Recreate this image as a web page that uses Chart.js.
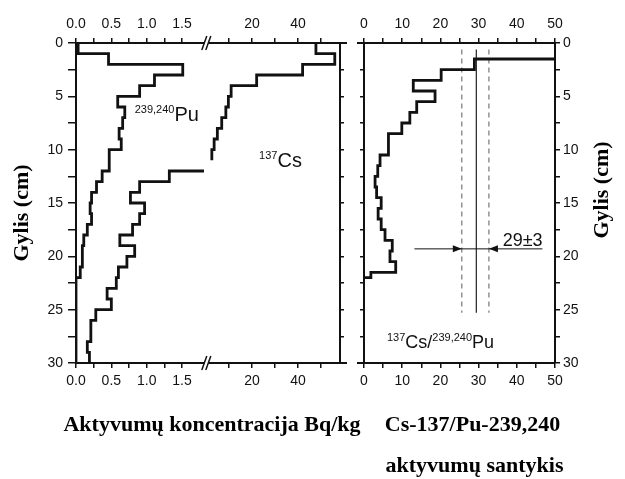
<!DOCTYPE html>
<html>
<head>
<meta charset="utf-8">
<script src="https://cdn.jsdelivr.net/npm/chart.js@4.4.1/dist/chart.umd.min.js"></script>
<style>
  html, body { margin: 0; padding: 0; background: #fff; }
  #wrap { position: relative; width: 625px; height: 479px; }
  #wrap canvas { position: absolute; left: 0; top: 0; }
</style>
</head>
<body>
<div id="wrap">
  <canvas id="concChart" width="625" height="479"></canvas>
  <canvas id="ratioChart" width="625" height="479"></canvas>
</div>
<script>
// --- Data ---
// depth layers, 1 cm each: top of layer (cm)
const depthTop = [0, 1, 2, 3, 4, 5, 6, 7, 8, 9, 10, 11, 12, 13, 14, 15, 16, 17, 18, 19, 20, 21, 22, 23, 24, 25, 26, 27, 28, 29];
const depthBottom = 30;
// 239,240Pu activity, Bq/kg
const puActivity = [0.03, 0.46, 1.51, 1.11, 0.90, 0.59, 0.69, 0.66, 0.61, 0.64, 0.47, 0.47, 0.37, 0.29, 0.22,
                    0.20, 0.22, 0.16, 0.11, 0.09, 0.09, 0.06, 0, 0, 0, 0, 0, 0, 0, 0];
// 137Cs activity, Bq/kg (no value for 11-12 cm)
const csActivity = [47.8, 56, 42, 22, 10.9, 9.7, 8.6, 6.8, 4.9, 3.5, 2.5, null, 1.32, 0.90, 0.77,
                    0.97, 0.90, 0.80, 0.62, 0.83, 0.72, 0.60, 0.57, 0.44, 0.50, 0.28, 0.21, 0.21, 0.16, 0.19];
// 137Cs/239,240Pu activity ratio (first layer is off scale)
const ratioDepthTop = [0, 1.5, 2.5, 3.5, 4.5, 5.5, 6.5, 7.5, 8.5, 10.5, 11.5, 12.5, 13.5, 14.5, 15.5, 16.5, 17.5, 18.5, 19.5, 20.5, 21.5, 22];
const ratioValue = [120, 28.9, 20.2, 12.9, 18.6, 13.8, 12.0, 9.9, 6.4, 4.2, 3.6, 2.9, 3.3, 4.5, 3.7, 4.5, 5.5, 7.4, 6.8, 8.3, 1.8, 0];
const ratioBottom = 22;
// mean ratio 29±3: lower, mean, upper
const ratioLines = [25.6, 29.4, 32.7];
const ratioLineDepth = [0.6, 25.3];

// tick values
const puTicks = [0, 0.25, 0.5, 0.75, 1, 1.25, 1.5];
const csTicks = [10, 20, 30, 40, 50];
const depthStep = 2.5;

// --- Broken concentration axis ---
const LOW_LIMIT = 1.8;      // values up to here use the 0-1.5 part
const BREAK_AT = 1.85;      // position of the // mark
const HIGH_ORIGIN = 1.84;   // axis position of 0 on the high part
const HIGH_UNIT = 0.0325;   // axis units per Bq/kg on the high part
const AXIS_MAX = 3.734;

function toBroken(v) {
  return v <= LOW_LIMIT ? v : HIGH_ORIGIN + v * HIGH_UNIT;
}

const brokenTicks = puTicks.map(v => ({ value: v, label: (v * 2) % 1 === 0 ? v.toFixed(1) : '' }))
  .concat(csTicks.map(v => ({ value: toBroken(v), label: v % 20 === 0 ? String(v) : '' })));

// step profile points: vertical run over each layer, horizontal step between layers
function stepPoints(tops, values, bottom, map) {
  const pts = [];
  for (let i = 0; i < values.length; i++) {
    const v = values[i];
    if (v === null) { pts.push({ x: null, y: null }); continue; }
    // curve coming back from the high part enters at the axis break
    if (i > 1 && values[i - 1] === null && values[i - 2] > LOW_LIMIT && v <= LOW_LIMIT) {
      pts.push({ x: BREAK_AT - 0.04, y: tops[i] });
    }
    pts.push({ x: map(v), y: tops[i] });
    const last = i + 1 === values.length || values[i + 1] === null;
    if (last) pts.push({ x: map(v), y: i + 1 < tops.length ? tops[i + 1] : bottom });
  }
  return pts;
}

const SANS = '"Liberation Sans", Arial, sans-serif';
const SERIF = '"Liberation Serif", "Times New Roman", serif';
const INK = '#111';

function drawIsotope(ctx, parts, x, y, mainSize, supSize) {
  let cx = x;
  ctx.textAlign = 'left';
  ctx.textBaseline = 'alphabetic';
  ctx.fillStyle = INK;
  parts.forEach(([text, sup]) => {
    ctx.font = (sup ? supSize : mainSize) + 'px ' + SANS;
    ctx.fillText(text, cx, sup ? y - mainSize * 0.4 : y);
    cx += ctx.measureText(text).width;
  });
}

function drawTitle(ctx, text, x, y, rot) {
  ctx.save();
  ctx.translate(x, y);
  ctx.rotate(rot);
  ctx.font = 'bold 22px ' + SERIF;
  ctx.fillStyle = '#000';
  ctx.textAlign = 'center';
  ctx.textBaseline = 'middle';
  ctx.fillText(text, 0, 0);
  ctx.restore();
}

function axisStyle(tickLen, pad, showLabels) {
  return {
    grid: { display: true, drawOnChartArea: false, drawTicks: true, tickLength: tickLen, color: INK, lineWidth: 1.5 },
    border: { display: true, color: INK, width: 2 },
    ticks: { display: showLabels, padding: pad, color: INK, autoSkip: false, maxRotation: 0,
             font: { family: SANS, size: 14 } }
  };
}

function depthAxis(position, tickLen, pad, showLabels, width) {
  const a = axisStyle(tickLen, pad, showLabels);
  a.type = 'linear';
  a.position = position;
  a.reverse = true;
  a.min = 0;
  a.max = depthBottom;
  a.ticks.stepSize = depthStep;
  a.ticks.callback = v => (v % 5 === 0 ? v : '');
  a.afterFit = s => { s.width = width; };
  return a;
}

function brokenAxis(position, height) {
  const a = axisStyle(5, 5, true);
  a.type = 'linear';
  a.position = position;
  a.min = 0;
  a.max = AXIS_MAX;
  a.afterBuildTicks = s => { s.ticks = brokenTicks.map(t => ({ value: t.value })); };
  a.ticks.callback = (v, i) => brokenTicks[i].label;
  a.afterFit = s => { s.height = height; };
  return a;
}

function ratioAxis(position, height) {
  const a = axisStyle(5, 5, true);
  a.type = 'linear';
  a.position = position;
  a.min = 0;
  a.max = 50;
  a.ticks.stepSize = 5;
  a.ticks.callback = v => (v % 10 === 0 ? v : '');
  a.afterFit = s => { s.height = height; };
  return a;
}

const profileStyle = { borderColor: INK, borderWidth: 2.8, stepped: 'after', pointRadius: 0, fill: false, spanGaps: false };

// --- Left panel: activity concentrations ---
const concDecor = {
  id: 'concDecor',
  afterDraw(chart) {
    const { ctx, chartArea: area } = chart;
    const xs = chart.scales.x, ys = chart.scales.y;
    ctx.save();
    // axis lines run a little past the right frame
    ctx.strokeStyle = INK;
    ctx.lineWidth = 2;
    [area.top, area.bottom].forEach(y => {
      ctx.beginPath(); ctx.moveTo(area.right, y); ctx.lineTo(area.right + 7, y); ctx.stroke();
    });
    // axis break marks
    const bx = xs.getPixelForValue(BREAK_AT);
    [area.top, area.bottom].forEach(y => {
      ctx.fillStyle = '#fff';
      ctx.fillRect(bx - 2, y - 2, 4, 4);
      ctx.strokeStyle = INK;
      ctx.lineWidth = 1.5;
      [-2, 2].forEach(d => {
        ctx.beginPath();
        ctx.moveTo(bx + d - 3, y + 7);
        ctx.lineTo(bx + d + 2, y - 7);
        ctx.stroke();
      });
    });
    drawIsotope(ctx, [['239,240', true], ['Pu', false]], xs.getPixelForValue(0.83), ys.getPixelForValue(7.3), 20, 11);
    drawIsotope(ctx, [['137', true], ['Cs', false]], xs.getPixelForValue(2.59), ys.getPixelForValue(11.6), 20, 11);
    drawTitle(ctx, 'Gylis (cm)', area.left - 54, (area.top + area.bottom) / 2 + 10, -Math.PI / 2);
    drawTitle(ctx, 'Aktyvumų koncentracija Bq/kg', (area.left + area.right) / 2 + 4, area.bottom + 62, 0);
    ctx.restore();
  }
};

new Chart(document.getElementById('concChart'), {
  type: 'line',
  data: {
    datasets: [
      Object.assign({ label: '239,240Pu', data: stepPoints(depthTop, puActivity, depthBottom, toBroken) }, profileStyle),
      Object.assign({ label: '137Cs', data: stepPoints(depthTop, csActivity, depthBottom, toBroken) }, profileStyle)
    ]
  },
  options: {
    responsive: false,
    devicePixelRatio: 1,
    animation: false,
    layout: { padding: 0 },
    scales: {
      x: brokenAxis('bottom', 479 - 363),
      x2: brokenAxis('top', 43),
      y: depthAxis('left', 8, 5, true, 76),
      y2: depthAxis('right', 4, 3, false, 625 - 340)
    },
    plugins: { legend: { display: false }, tooltip: { enabled: false } }
  },
  plugins: [concDecor]
});

// --- Right panel: Cs/Pu activity ratio ---
const ratioDecor = {
  id: 'ratioDecor',
  afterDraw(chart) {
    const { ctx, chartArea: area } = chart;
    const xs = chart.scales.x, ys = chart.scales.y;
    ctx.save();
    ctx.strokeStyle = INK;
    ctx.lineWidth = 2;
    [area.top, area.bottom].forEach(y => {
      ctx.beginPath(); ctx.moveTo(area.left - 7, y); ctx.lineTo(area.left, y); ctx.stroke();
    });
    // 29±3 arrows
    const ya = ys.getPixelForValue(19.3);
    ctx.lineWidth = 1;
    ctx.beginPath();
    ctx.moveTo(xs.getPixelForValue(13.2), ya);
    ctx.lineTo(xs.getPixelForValue(46.7), ya);
    ctx.stroke();
    ctx.fillStyle = INK;
    [[ratioLines[0], 1], [ratioLines[2], -1]].forEach(([v, dir]) => {
      const tip = xs.getPixelForValue(v);
      ctx.beginPath();
      ctx.moveTo(tip, ya);
      ctx.lineTo(tip - dir * 9, ya - 3.5);
      ctx.lineTo(tip - dir * 9, ya + 3.5);
      ctx.closePath();
      ctx.fill();
    });
    ctx.font = '18px ' + SANS;
    ctx.textAlign = 'left';
    ctx.textBaseline = 'alphabetic';
    ctx.fillText('29±3', xs.getPixelForValue(36.3), ys.getPixelForValue(19.0));
    drawIsotope(ctx, [['137', true], ['Cs/', false], ['239,240', true], ['Pu', false]],
      xs.getPixelForValue(6.0), ys.getPixelForValue(28.6), 18, 11);
    drawTitle(ctx, 'Gylis (cm)', area.right + 47, (area.top + area.bottom) / 2 - 13, -Math.PI / 2);
    const cx = (area.left + area.right) / 2 + 13;
    drawTitle(ctx, 'Cs-137/Pu-239,240', cx, area.bottom + 62, 0);
    drawTitle(ctx, 'aktyvumų santykis', cx + 2, area.bottom + 103, 0);
    ctx.restore();
  }
};

const lineSpan = v => [{ x: v, y: ratioLineDepth[0] }, { x: v, y: ratioLineDepth[1] }];

new Chart(document.getElementById('ratioChart'), {
  type: 'line',
  data: {
    datasets: [
      Object.assign({ label: 'ratio', data: stepPoints(ratioDepthTop, ratioValue, ratioBottom, v => v) }, profileStyle),
      { label: 'mean', data: lineSpan(ratioLines[1]), borderColor: '#222', borderWidth: 1.2, pointRadius: 0 },
      { label: 'low', data: lineSpan(ratioLines[0]), borderColor: '#777', borderWidth: 1.2, borderDash: [5, 4], pointRadius: 0 },
      { label: 'high', data: lineSpan(ratioLines[2]), borderColor: '#777', borderWidth: 1.2, borderDash: [5, 4], pointRadius: 0 }
    ]
  },
  options: {
    responsive: false,
    devicePixelRatio: 1,
    animation: false,
    layout: { padding: 0 },
    scales: {
      x: ratioAxis('bottom', 479 - 363),
      x2: ratioAxis('top', 43),
      y: depthAxis('left', 4, 3, false, 364),
      y2: depthAxis('right', 5, 3, true, 625 - 555)
    },
    plugins: { legend: { display: false }, tooltip: { enabled: false } }
  },
  plugins: [ratioDecor]
});
</script>
</body>
</html>
